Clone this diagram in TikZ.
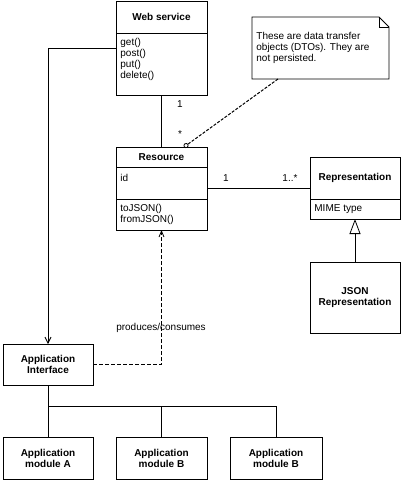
\documentclass[tikz,border=0pt]{standalone}
\usepackage{fontspec}
\setmainfont{Liberation Sans}
\usetikzlibrary{arrows.meta}

\tikzset{
    cls/.style={draw, line width=0.8pt, inner sep=0pt, outer sep=0pt, anchor=north west},
    blk/.style={cls, font=\fontsize{10}{11}\selectfont\bfseries, align=center},
    ttl/.style={font=\fontsize{10}{11}\selectfont\bfseries},
    txt/.style={anchor=west, align=left, inner sep=0pt},
    mult/.style={inner sep=0pt},
    open/.style={-{Straight Barb[length=6pt,width=6pt]}},
}

\begin{document}
\begin{tikzpicture}[x=1pt, y=-1pt, line width=0.8pt, font=\fontsize{10}{11}\selectfont]
    \useasboundingbox (0,0) rectangle (402,480);

    % Web service class
    \node[cls, minimum width=91pt, minimum height=94pt] (ws) at (116,1) {};
    \draw (ws.west |- 0,33) -- (ws.east |- 0,33);
    \node[ttl] (wsname) at (161.5,17) {Web service};
    \node[txt] (wsops) at (120,59.5) {get()\\post()\\put()\\delete()};

    % Resource class
    \node[cls, minimum width=91pt, minimum height=83pt] (res) at (116,147) {};
    \draw (res.west |- 0,167) -- (res.east |- 0,167);
    \draw (res.west |- 0,199) -- (res.east |- 0,199);
    \node[ttl] (resname) at (161.5,157) {Resource};
    \node[txt] (resid) at (120,178) {id};
    \node[txt] (resops) at (120,214) {toJSON()\\fromJSON()};

    % Representation class
    \node[cls, minimum width=90pt, minimum height=62pt] (rep) at (310,157) {};
    \draw (rep.west |- 0,199) -- (rep.east |- 0,199);
    \node[ttl] (repname) at (355,178) {Representation};
    \node[txt] (repmime) at (314,209) {MIME type};

    % JSON representation
    \node[blk, minimum width=90pt, minimum height=71pt] (json) at (310,262) {JSON\\Representation};

    % Note
    \node[inner sep=0pt, outer sep=0pt, anchor=north west, minimum width=137pt, minimum height=62pt] (note) at (252,17) {};
    \draw (note.north west) -- ++(127,0) -- ++(10,10) |- (note.south west) -- cycle;
    \draw (note.north east) ++(-10,0) |- ++(10,10);
    \node[txt] (notetext) at (256,48) {These are data transfer\\objects (DTOs). They are\\not persisted.};

    % Application side
    \node[blk, minimum width=90pt, minimum height=41pt] (api) at (3,344) {Application\\Interface};
    \node[blk, minimum width=90pt, minimum height=42pt] (moda) at (3,437) {Application\\module A};
    \node[blk, minimum width=91pt, minimum height=42pt] (modb) at (116,437) {Application\\module B};
    \node[blk, minimum width=92pt, minimum height=42pt] (modc) at (230,437) {Application\\module B};

    % Associations
    \draw (ws.south) -- (res.north);
    \node[mult] (m1) at (180,104) {1};
    \node[mult] (m2) at (180,134) {*};
    \draw (res.east) -- (res.east -| rep.west);
    \node[mult] (m3) at (226,178) {1};
    \node[mult] (m4) at (290,178) {1..*};
    \draw[-{Triangle[open, length=15pt, width=11pt]}] (json.north) -- (rep.south);

    % Note anchor
    \coordinate (notefoot) at (278,79);
    \coordinate (resdot) at (184,147);
    \draw[dash pattern=on 3pt off 1.5pt, line width=1pt, -{Circle[open, length=5pt, line width=0.8pt]}] (notefoot) -- (resdot);

    % Dependencies
    \draw[open] (ws.west) -| (api.north);
    \draw[dash pattern=on 4pt off 2pt, line width=1.2pt, -{Straight Barb[length=6pt, width=5pt, line width=0.8pt]}] (api.east) -| (res.south);
    \node (prod) at (161,328) {produces/consumes};

    % Module tree
    \coordinate (bus) at (48,406);
    \draw (api.south) -- (moda.north);
    \draw (bus) -| (modb.north);
    \draw (bus) -| (modc.north);
\end{tikzpicture}
\end{document}
